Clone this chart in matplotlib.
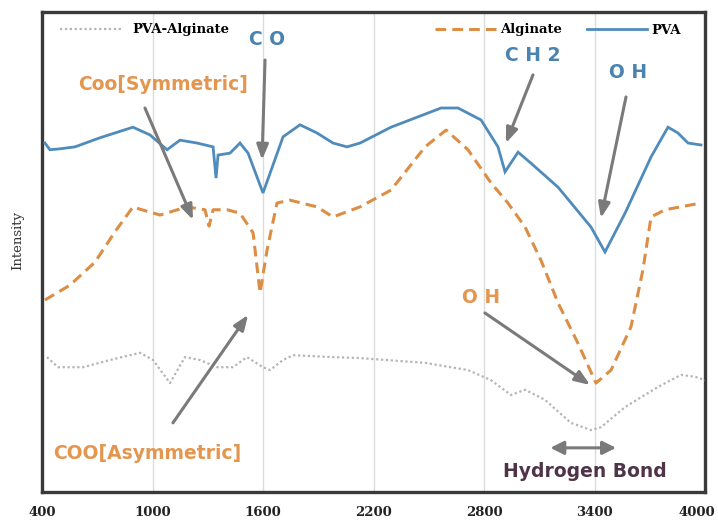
import matplotlib
matplotlib.use("Agg")
import matplotlib.pyplot as plt
from matplotlib.lines import Line2D
from matplotlib.transforms import ScaledTranslation

# ---------------- data ----------------
pva_x = [416, 443, 498, 579, 715, 894, 986, 1079, 1149, 1242, 1329, 1345, 1356, 1421,
         1475, 1519, 1600, 1709, 1801, 1893, 1980, 2056, 2127, 2295, 2567, 2659, 2784,
         2876, 2914, 2985, 3055, 3202, 3381, 3457, 3566, 3707, 3799, 3853, 3908, 3978]
pva_y = [72.7, 71.3, 71.5, 71.9, 73.8, 76.0, 74.4, 71.3, 73.3, 72.7, 71.9, 65.4, 70.2, 70.6,
         72.7, 70.6, 62.3, 74.0, 76.5, 74.8, 72.7, 71.9, 72.7, 76.0, 80.0, 80.0, 77.5,
         71.9, 66.7, 70.8, 68.5, 63.5, 55.2, 50.0, 58.1, 69.8, 76.0, 74.8, 72.7, 72.3]

alg_x = [416, 552, 688, 796, 894, 925, 1041, 1187, 1285, 1307, 1329, 1405, 1475, 1546,
         1584, 1622, 1676, 1747, 1893, 1980, 2127, 2295, 2480, 2594, 2713, 2838, 2930,
         3023, 3109, 3202, 3310, 3408, 3490, 3598, 3663, 3707, 3783, 3978]
alg_y = [40.0, 43.1, 47.9, 54.2, 59.4, 59.0, 57.7, 59.4, 58.8, 55.4, 58.8, 58.8, 58.1, 54.0,
         41.5, 50.4, 60.2, 60.8, 59.4, 57.3, 59.4, 62.9, 71.9, 75.4, 71.3, 64.4, 60.2,
         55.2, 48.3, 39.4, 31.0, 22.7, 25.4, 34.4, 46.3, 57.3, 58.8, 60.2]

blend_x = [427, 487, 623, 769, 932, 1003, 1095, 1176, 1258, 1350, 1437, 1513, 1600, 1638,
           1709, 1763, 1980, 2127, 2480, 2713, 2838, 2947, 3023, 3131, 3272, 3381, 3435,
           3566, 3745, 3870, 3946, 4000]
blend_y = [28.1, 26.0, 26.0, 27.5, 29.0, 27.5, 22.7, 28.1, 27.5, 26.0, 26.0, 28.1, 26.0, 25.4,
           27.5, 28.5, 28.1, 27.9, 26.9, 25.4, 23.3, 20.2, 21.3, 19.2, 14.4, 12.9, 13.5,
           17.7, 21.9, 24.4, 24.0, 23.3]

x_ticks = [400, 1000, 1600, 2200, 2800, 3400, 4000]
x_ticklabels = ["400", "1000", "1600", "2200", "2800", "3400", "4000"]

# annotations: (text, text position, arrow start, arrow end, colour)
labels = [
    ("C O", (1622, 94.2), (1611, 90.0), (1595, 69.2), "#4a82b0"),
    ("Coo[Symmetric]", (1060, 84.8), (959, 80.0), (1220, 56.7), "#e4964f"),
    ("C H 2", (3066, 91.0), (3066, 86.9), (2919, 72.7), "#4a82b0"),
    ("O H", (3582, 87.3), (3571, 82.3), (3435, 57.1), "#4a82b0"),
    ("O H", (2784, 40.6), (2805, 37.3), (3376, 22.3), "#e4964f"),
    ("COO[Asymmetric]", (970, 8.1), (1111, 14.4), (1519, 36.9), "#e4964f"),
]
hbond_text = "Hydrogen Bond"
hbond_pos = (3350, 4.2)
hbond_span = (3160, 3517, 9.2)

# ---------------- figure ----------------
fig = plt.figure(figsize=(7.18, 5.21), dpi=100)
ax = fig.add_axes([42 / 718, 29 / 521, 663 / 718, 480 / 521])

blue = "#4f8bbb"
orange = "#dc8e45"
gray = "#b4b4b4"

ax.plot(pva_x, pva_y, color=blue, lw=2.0, solid_joinstyle="miter", zorder=3)
ax.plot(alg_x, alg_y, color=orange, lw=2.2, ls=(0, (3.5, 2.0)), zorder=3)
ax.plot(blend_x, blend_y, color=gray, lw=1.6, ls=(0, (1, 1.2)), zorder=3)

ax.set_xlim(400, 4000)
ax.set_ylim(0, 100)
ax.set_xticks(x_ticks)
ax.set_xticklabels(x_ticklabels, family="DejaVu Serif", weight="bold", fontsize=9.5,
                   color="#222222")
ax.tick_params(axis="x", length=0, pad=10)
last = ax.get_xticklabels()[-1]
last.set_transform(last.get_transform() + ScaledTranslation(-8 / 100, 0, fig.dpi_scale_trans))
ax.set_yticks([])
ax.set_ylabel("Intensity", family="DejaVu Serif", fontsize=9.5, color="#333333")
ax.yaxis.set_label_coords(-0.027, 0.525)
for g in x_ticks[1:-1]:
    ax.axvline(g, color="#dcdcdc", lw=1.0, zorder=1)
for s in ax.spines.values():
    s.set_color("#3a3a3a")
    s.set_linewidth(2.4)

# annotations
afont = dict(fontsize=13.5, family="DejaVu Sans", weight="bold")
for txt, tpos, a0, a1, col in labels:
    ax.text(tpos[0], tpos[1], txt, color=col, ha="center", va="center", zorder=5, **afont)
    ax.annotate("", xy=a1, xytext=a0,
                arrowprops=dict(arrowstyle="-|>,head_length=0.9,head_width=0.35",
                                color="#7a7a7a", lw=2.2, shrinkA=0, shrinkB=0),
                zorder=4)

ax.annotate("", xy=(hbond_span[0], hbond_span[2]), xytext=(hbond_span[1], hbond_span[2]),
            arrowprops=dict(arrowstyle="<|-|>,head_length=0.8,head_width=0.4",
                            color="#7a7a7a", lw=2.2, shrinkA=0, shrinkB=0))
ax.text(hbond_pos[0], hbond_pos[1], hbond_text, color="#4e3448", ha="center",
        va="center", **afont)

# legends
lfont = dict(family="DejaVu Serif", weight="bold", size=9.5)
h_blend = Line2D([], [], color=gray, lw=1.6, ls=(0, (1, 1.2)))
h_alg = Line2D([], [], color=orange, lw=2.2, ls=(0, (3.5, 2.0)))
h_pva = Line2D([], [], color=blue, lw=2.0)
leg1 = ax.legend([h_blend], ["PVA-Alginate"], loc="center left",
                 bbox_to_anchor=((60 - 42) / 663, (492 - 30) / 480), frameon=False,
                 prop=lfont, handlelength=4.6, handletextpad=0.9, borderpad=0,
                 borderaxespad=0)
ax.add_artist(leg1)
ax.legend([h_alg, h_pva], ["Alginate", "PVA"], loc="center left",
          bbox_to_anchor=((435 - 42) / 663, (492 - 30) / 480), frameon=False,
          prop=lfont, handlelength=4.6, handletextpad=0.3, columnspacing=1.9,
          ncol=2, borderpad=0, borderaxespad=0)

fig.savefig("out.png", dpi=100)
